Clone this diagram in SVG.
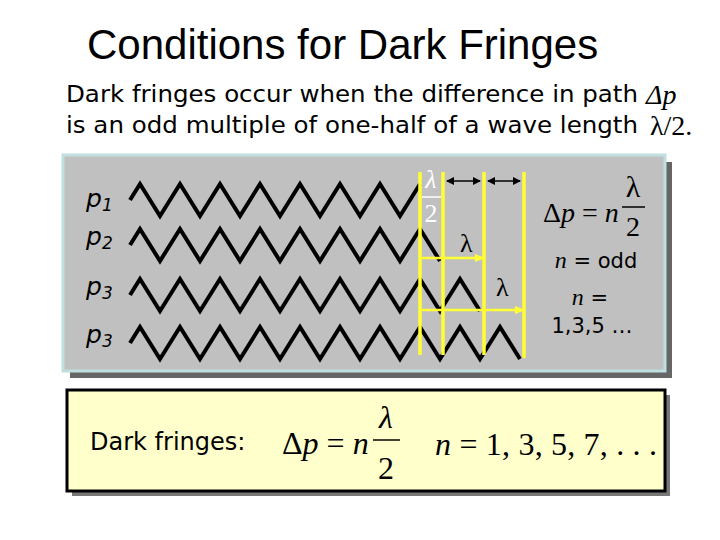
<svg xmlns="http://www.w3.org/2000/svg" width="720" height="540" viewBox="0 0 720 540">
<defs>
<style>
.sans{font-family:"DejaVu Sans",Verdana,sans-serif}
.ser{font-family:"Liberation Serif","Times New Roman",serif}
.w{fill:none;stroke:#000;stroke-width:4;stroke-linejoin:miter}
.y{stroke:#ffff33;stroke-width:3.5}
</style>
<marker id="ab" markerWidth="8" markerHeight="8" refX="7" refY="4" orient="auto-start-reverse" markerUnits="userSpaceOnUse"><path d="M0,0L8,4L0,8z" fill="#000"/></marker>
<marker id="ay" markerWidth="10" markerHeight="8" refX="9" refY="4" orient="auto" markerUnits="userSpaceOnUse"><path d="M0,0L10,4L0,8z" fill="#ffff33"/></marker>
</defs>
<rect width="720" height="540" fill="#fff"/>
<text x="87" y="59" font-family="Liberation Sans,Arial,sans-serif" font-size="42">Conditions for Dark Fringes</text>
<g class="sans" font-size="23.5">
<text x="66" y="102" textLength="572" lengthAdjust="spacingAndGlyphs">Dark fringes occur when the difference in path</text>
<text x="646" y="104" class="ser" font-style="italic" font-size="28">Δp</text>
<text x="66" y="133" textLength="572" lengthAdjust="spacingAndGlyphs">is an odd multiple of one-half of a wave length</text>
<text x="650" y="135" class="ser" font-size="28">λ/2.</text>
</g>
<g id="panel">
<rect x="70" y="162" width="602" height="216" fill="#666"/>
<rect x="63" y="155" width="602" height="216" fill="#c0c0c0" stroke="#bfe0e0" stroke-width="3"/>
</g>
<g id="labels" class="sans" font-style="italic" font-size="25" fill="#000">
<text x="86" y="207">p<tspan font-size="17" dy="4">1</tspan></text>
<text x="86" y="245">p<tspan font-size="17" dy="4">2</tspan></text>
<text x="86" y="295">p<tspan font-size="17" dy="4">3</tspan></text>
<text x="86" y="343">p<tspan font-size="17" dy="4">3</tspan></text>
</g>
<g id="waves">
<polyline class="w" points="130,200 140,184 160,216 180,184 200,216 220,184 240,216 260,184 280,216 300,184 320,216 340,184 360,216 380,184 400,216 420,184"/>
<polyline class="w" points="130,245 140,229 160,261 180,229 200,261 220,229 240,261 260,229 280,261 300,229 320,261 340,229 360,261 380,229 400,261 420,229 440,261"/>
<polyline class="w" points="130,295 140,279 160,311 180,279 200,311 220,279 240,311 260,279 280,311 300,279 320,311 340,279 360,311 380,279 400,311 420,279 440,311 460,279 480,311"/>
<polyline class="w" points="130,343 140,327 160,359 180,327 200,359 220,327 240,359 260,327 280,359 300,327 320,359 340,327 360,359 380,327 400,359 420,327 440,359 460,327 480,359 500,327 520,359"/>
</g>
<g id="connectors">
<line class="y" x1="420" y1="172" x2="420" y2="355"/>
<line class="y" x1="443" y1="172" x2="443" y2="355"/>
<line class="y" x1="484" y1="172" x2="484" y2="355"/>
<line class="y" x1="524" y1="172" x2="524" y2="358"/>
<line x1="447" y1="181" x2="480" y2="181" stroke="#000" stroke-width="1.5" marker-start="url(#ab)" marker-end="url(#ab)"/>
<line x1="488" y1="181" x2="520" y2="181" stroke="#000" stroke-width="1.5" marker-start="url(#ab)" marker-end="url(#ab)"/>
<line x1="420" y1="258" x2="484" y2="258" stroke="#ffff33" stroke-width="2.5" marker-end="url(#ay)"/>
<line x1="420" y1="310" x2="524" y2="310" stroke="#ffff33" stroke-width="2.5" marker-end="url(#ay)"/>
</g>
<g id="ann" class="ser">
<text x="431" y="188" font-size="26" fill="#fff" font-style="italic" text-anchor="middle">λ</text>
<line x1="422" y1="197" x2="441" y2="197" stroke="#fff" stroke-width="1.5"/>
<text x="431" y="222" font-size="26" fill="#fff" text-anchor="middle">2</text>
<text x="460" y="252" font-size="26">λ</text>
<text x="496" y="296" font-size="26">λ</text>
<text x="543" y="222" font-size="28"><tspan>Δ</tspan><tspan font-style="italic">p</tspan> = <tspan font-style="italic">n</tspan></text>
<text x="633" y="197" font-size="30" text-anchor="middle">λ</text>
<line x1="622" y1="207" x2="645" y2="207" stroke="#000" stroke-width="1.5"/>
<text x="633" y="236" font-size="28" text-anchor="middle">2</text>
</g>
<g class="sans" font-size="21" text-anchor="middle">
<text x="596" y="268"><tspan class="ser" font-style="italic" font-size="24">n</tspan> = odd</text>
<text x="590" y="305"><tspan class="ser" font-style="italic" font-size="24">n</tspan> =</text>
<text x="592" y="333">1,3,5 …</text>
</g>
<g id="box">
<rect x="72" y="395" width="598" height="101" fill="#777"/>
<rect x="67" y="390" width="598" height="101" fill="#ffffcc" stroke="#000" stroke-width="3"/>
<text x="90" y="450" class="sans" font-size="24">Dark fringes:</text>
<g class="ser" font-size="32">
<text x="282" y="454">Δ<tspan font-style="italic">p</tspan> = <tspan font-style="italic">n</tspan></text>
<text x="386" y="428" text-anchor="middle" font-style="italic">λ</text>
<line x1="373" y1="440" x2="400" y2="440" stroke="#000" stroke-width="1.5"/>
<text x="386" y="479" text-anchor="middle">2</text>
<text x="435" y="455" textLength="222" lengthAdjust="spacing"><tspan font-style="italic">n</tspan> = 1, 3, 5, 7, . . .</text>
</g>
</g>
</svg>
